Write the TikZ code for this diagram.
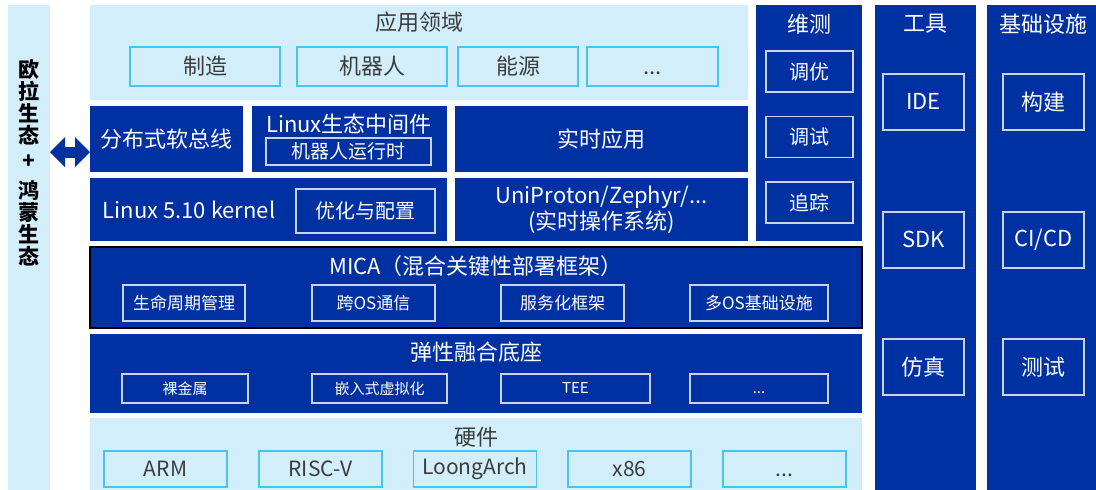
\documentclass[tikz,border=0pt]{standalone}
\usepackage{fontspec}
\setmainfont{Noto Sans CJK SC}
\usepackage{tikz}
\usetikzlibrary{arrows.meta}
\definecolor{dblue}{HTML}{0031A3}
\definecolor{lblue}{HTML}{D2EEFB}
\definecolor{cyanline}{HTML}{48C4F1}
\definecolor{dsubline}{HTML}{C9D3EE}
\definecolor{greytext}{HTML}{3C3C3C}
\newcommand\tridot{...}

\begin{document}
\begin{tikzpicture}[
x=1pt, y=-1pt,
fsz/.style={font=\fontsize{#1pt}{#1pt}\selectfont},
pane/.style={anchor=north west, inner sep=0pt, outer sep=0pt},
lpane/.style={pane, fill=lblue},
dpane/.style={pane, fill=dblue, text=white, align=center,
	font=\fontsize{22pt}{26pt}\selectfont},
ltext/.style={text=greytext, inner sep=0pt, fsz=22},
dtext/.style={text=white, inner sep=0pt, fsz=22},
lsub/.style={ltext, draw=cyanline, line width=1.6pt, fill=lblue,
	execute at begin node={\vphantom{国}}},
dsub/.style={dtext, draw=dsubline, line width=1.2pt,
	execute at begin node={\vphantom{国}}},
dbl/.style={<->, >={Triangle[width=30pt,length=15pt,line width=0pt]},
	line width=11pt, draw=dblue}
]
\path[fill=white] (0,0) rectangle (1096,490);

\node[lpane, minimum width=42pt, minimum height=485pt] (eco) at (8,5) {};
\node[align=center, inner sep=0pt, font=\fontsize{21pt}{22pt}\selectfont\bfseries] (ecoT) at (29,163)
	{欧\\拉\\生\\态\\[3pt]+\\[8pt]鸿\\蒙\\生\\态};

\node[lpane, minimum width=658pt, minimum height=95pt] (app) at (90,5) {};
\node[ltext] (appT) at (419,22) {应用领域};
\foreach \n/\x/\w/\t in {1/205/150/制造, 2/372/150/机器人, 3/518/120/能源, 4/652.5/131/\tridot}
	\node[lsub, minimum width=\w pt, minimum height=39pt] (app\n) at (\x,66.5) {\t};

\node[dpane, minimum width=153pt, minimum height=66pt] (bus) at (90,106) {分布式软总线};
\node[dpane, minimum width=195pt, minimum height=66pt] (mid) at (252,106) {};
\node[dtext] (midT) at (349,124) {Linux生态中间件};
\node[dsub, fsz=19, minimum width=165pt, minimum height=27pt] (mid1) at (348.5,151.5) {机器人运行时};
\node[dpane, minimum width=293pt, minimum height=66pt] (rt) at (455,106) {实时应用};

\node[dpane, minimum width=357pt, minimum height=63pt] (kern) at (90,178) {};
\node[dtext] (kernT) at (189,210) {Linux 5.10 kernel};
\node[dsub, fsz=20, minimum width=139pt, minimum height=44pt] (kern1) at (365.5,211) {优化与配置};
\node[dpane, minimum width=293pt, minimum height=63pt] (rtos) at (455,178) {UniProton/Zephyr/...\\(实时操作系统)};

\node[dpane, minimum width=106pt, minimum height=236pt] (om) at (756,5) {};
\node[dtext] (omT) at (809,24) {维测};
\foreach \n/\y/\t in {1/71.5/调优, 2/137/调试, 3/202.5/追踪}
	\node[dsub, fsz=20, minimum width=87pt, minimum height=41pt] (om\n) at (809.5,\y) {\t};

\node[dpane, draw=black, line width=1.2pt, minimum width=772pt, minimum height=81pt] (mica) at (90,247) {};
\node[dtext] (micaT) at (476,266) {MICA（混合关键性部署框架）};
\foreach \n/\x/\w/\t in {1/184/122/生命周期管理, 2/373.5/123/跨OS通信, 3/562.5/123/服务化框架, 4/759/138/多OS基础设施}
	\node[dsub, fsz=17, minimum width=\w pt, minimum height=36pt] (mica\n) at (\x,303) {\t};

\node[dpane, minimum width=772pt, minimum height=79pt] (base) at (90,334) {};
\node[dtext] (baseT) at (476,352) {弹性融合底座};
\foreach \n/\x/\w/\t in {1/185/126/裸金属, 2/379.5/135/嵌入式虚拟化, 3/575.5/149/TEE, 4/759/138/\tridot}
	\node[dsub, fsz=15, minimum width=\w pt, minimum height=29pt] (base\n) at (\x,388.5) {\t};

\node[lpane, minimum width=772pt, minimum height=72pt] (hw) at (90,418) {};
\node[ltext] (hwT) at (476,437) {硬件};
\foreach \n/\x/\t in {1/165.5/ARM, 2/320.5/RISC-V, 3/475/LoongArch, 4/629.5/x86, 5/784.5/\tridot}
	\node[lsub, fsz=21, minimum width=123pt, minimum height=36pt] (hw\n) at (\x,469) {\t};

\node[dpane, minimum width=101pt, minimum height=485pt] (tool) at (875,5) {};
\node[dtext] (toolT) at (925.5,24) {工具};
\foreach \n/\y/\t in {1/102/IDE, 2/240/SDK, 3/367/仿真}
	\node[dsub, fsz=22, minimum width=81pt, minimum height=56pt] (tool\n) at (923.5,\y) {\t};

\node[dpane, minimum width=109pt, minimum height=485pt] (infra) at (987,5) {};
\node[dtext] (infraT) at (1043,24) {基础设施};
\foreach \n/\y/\t in {1/102/构建, 2/240/{CI/CD}, 3/367/测试}
	\node[dsub, fsz=22, minimum width=81pt, minimum height=56pt] (infra\n) at (1043.5,\y) {\t};

\coordinate (busin) at ([yshift=-13pt]bus.west);
\draw[dbl] (eco.east |- busin) -- (busin);
\end{tikzpicture}
\end{document}
